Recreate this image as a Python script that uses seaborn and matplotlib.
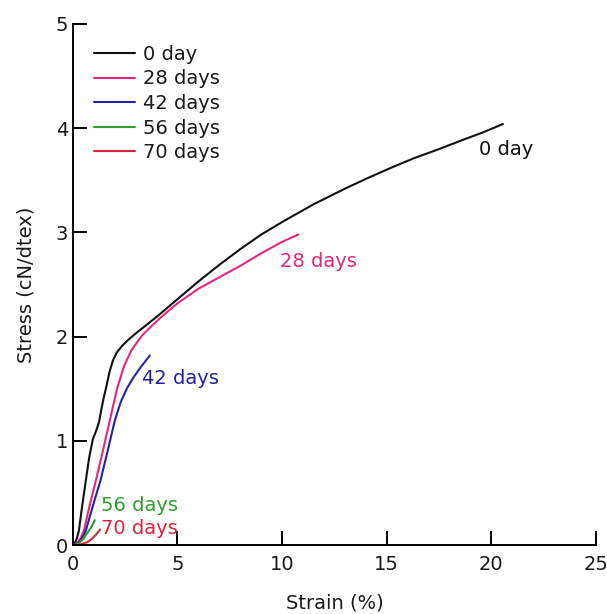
import matplotlib
matplotlib.use("Agg")
import matplotlib.pyplot as plt
import seaborn as sns
import pandas as pd

# Stress-strain curves of fibres after different ageing times
strain_0 = [0, 0.10, 0.20, 0.29, 0.40, 0.52, 0.62, 0.78, 0.96, 1.10, 1.25, 1.36, 1.47,
            1.60, 1.75, 1.91, 2.10, 2.39, 2.70, 3.06, 3.50, 4.00, 5.00, 6.00, 7.00,
            8.00, 9.00, 10.00, 11.50, 13.00, 14.07, 15.20, 16.27, 17.50, 18.66,
            19.60, 20.55]
stress_0 = [0, 0.02, 0.07, 0.14, 0.31, 0.48, 0.62, 0.84, 1.02, 1.09, 1.18, 1.30, 1.41,
            1.52, 1.66, 1.77, 1.85, 1.92, 1.98, 2.04, 2.11, 2.19, 2.36, 2.53, 2.69,
            2.84, 2.98, 3.10, 3.27, 3.42, 3.52, 3.62, 3.71, 3.80, 3.89,
            3.96, 4.04]

strain_28 = [0, 0.12, 0.25, 0.40, 0.53, 0.72, 0.90, 1.10, 1.44, 1.77, 2.11, 2.45, 2.80,
             3.30, 3.80, 4.40, 5.00, 6.00, 7.00, 8.00, 9.00, 10.00, 10.77]
stress_28 = [0, 0.01, 0.03, 0.08, 0.14, 0.31, 0.46, 0.62, 0.91, 1.20, 1.50, 1.72, 1.87,
             2.01, 2.11, 2.22, 2.32, 2.46, 2.57, 2.68, 2.80, 2.91, 2.98]

strain_42 = [0, 0.15, 0.30, 0.45, 0.62, 0.86, 1.08, 1.32, 1.67, 2.01, 2.30, 2.60, 2.90,
             3.25, 3.68]
stress_42 = [0, 0.01, 0.03, 0.07, 0.14, 0.31, 0.46, 0.62, 0.91, 1.20, 1.38, 1.51, 1.61,
             1.71, 1.82]

strain_56 = [0, 0.15, 0.30, 0.50, 0.70, 0.90, 1.05]
stress_56 = [0, 0.005, 0.02, 0.06, 0.12, 0.18, 0.24]

strain_70 = [0, 0.20, 0.40, 0.70, 0.90, 1.10, 1.30]
stress_70 = [0, 0.003, 0.01, 0.03, 0.06, 0.10, 0.15]

series_names = ["0 day", "28 days", "42 days", "56 days", "70 days"]
series_colors = ["#111111", "#e2287c", "#2424a0", "#2f9e2f", "#d8263c"]

# Curve labels placed next to the curve ends: (x, y) in data units
label_x = [19.4, 9.9, 3.3, 1.34, 1.34]
label_y = [3.80, 2.72, 1.60, 0.38, 0.16]

frames = []
for name, xs, ys in zip(series_names,
                        [strain_0, strain_28, strain_42, strain_56, strain_70],
                        [stress_0, stress_28, stress_42, stress_56, stress_70]):
    frames.append(pd.DataFrame({"Strain": xs, "Stress": ys, "Ageing": name}))
df = pd.concat(frames, ignore_index=True)

sns.set_style("ticks")
plt.rcParams["font.family"] = ["DejaVu Sans"]
plt.rcParams["text.color"] = "#1a1a1a"
plt.rcParams["axes.labelcolor"] = "#1a1a1a"
plt.rcParams["xtick.labelcolor"] = "#1a1a1a"
plt.rcParams["ytick.labelcolor"] = "#1a1a1a"
FS = 14

fig = plt.figure(figsize=(6.07, 6.14), dpi=100)
ax = fig.add_axes([0.120, 0.112, 0.862, 0.849])

sns.lineplot(data=df, x="Strain", y="Stress", hue="Ageing", hue_order=series_names,
             palette=series_colors, sort=False, estimator=None, linewidth=1.5, ax=ax)

for name, c, lx, ly in zip(series_names, series_colors, label_x, label_y):
    ax.text(lx, ly, name, color=c, fontsize=FS, va="center", ha="left")

ax.set_xlim(0, 25)
ax.set_ylim(0, 5)
ax.set_xticks([0, 5, 10, 15, 20, 25])
ax.set_yticks([0, 1, 2, 3, 4, 5])
ax.set_xlabel("Strain (%)", fontsize=FS, labelpad=14)
ax.set_ylabel("Stress (cN/dtex)", fontsize=FS, labelpad=14.5)
ax.tick_params(direction="in", length=10, width=1.4, labelsize=FS, color="black")
ax.tick_params(axis="x", pad=7)
ax.tick_params(axis="y", pad=3.5)
for side in ["left", "bottom"]:
    ax.spines[side].set_linewidth(1.4)
    ax.spines[side].set_color("black")
sns.despine(ax=ax)

leg = ax.legend(loc="upper left", bbox_to_anchor=(0.01, 0.99), fontsize=FS,
                handlelength=2.15, handletextpad=0.4, labelspacing=0.29,
                frameon=True, borderpad=0.3)
leg.get_frame().set_edgecolor("none")
leg.get_frame().set_facecolor("white")
leg.get_frame().set_alpha(1.0)
for line in leg.get_lines():
    line.set_linewidth(1.5)

fig.savefig("out.png", dpi=100)
